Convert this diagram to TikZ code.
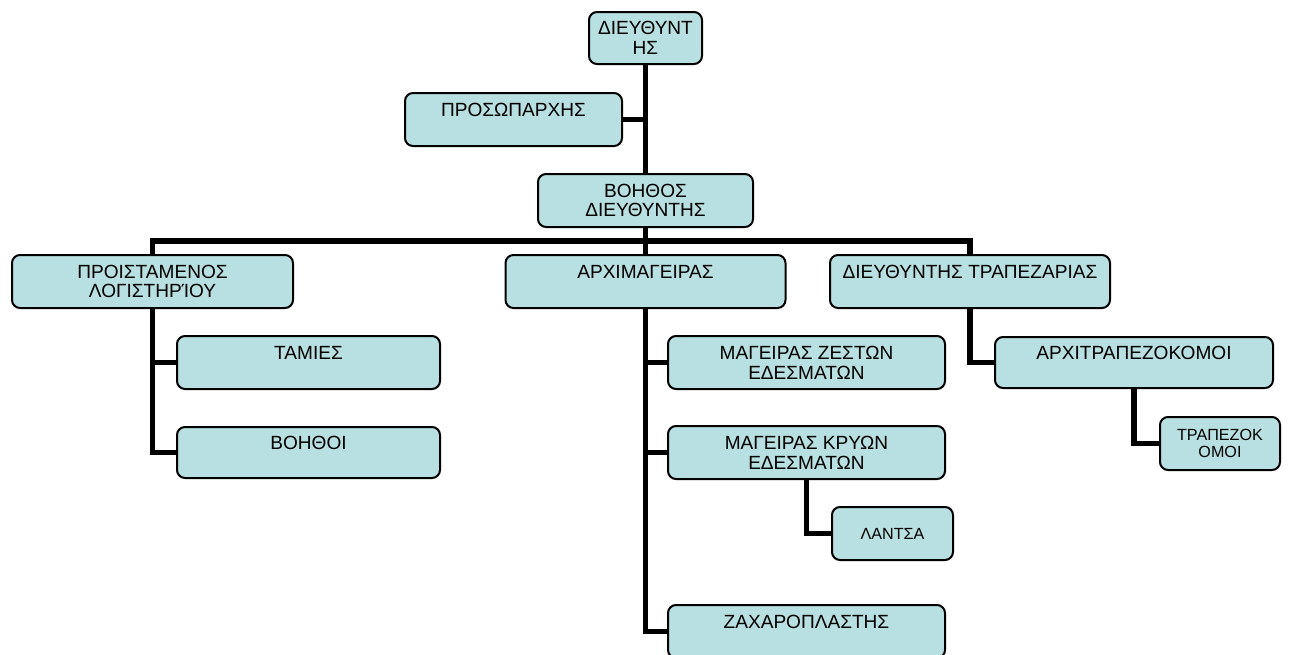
\documentclass[tikz,border=0pt]{standalone}
\usepackage{fontspec}
\setmainfont{Liberation Sans}
\usetikzlibrary{backgrounds}
\definecolor{boxfill}{HTML}{B8DFE1}
\tikzset{
  orgbox/.style={draw=black, line width=1.5pt, rounded corners=6pt, fill=boxfill,
    inner sep=0pt, outer sep=0pt, align=center, minimum height=39.75pt,
    font=\fontsize{14.3}{14.8}\selectfont},
  smallbox/.style={orgbox, font=\fontsize{12.1}{12.6}\selectfont},
  link/.style={draw=black, line width=4.1pt, line join=miter}
}
\begin{document}
\begin{tikzpicture}[x=0.75pt,y=-0.75pt]
\useasboundingbox (0,0) rectangle (1290,654);
\clip (0,0) rectangle (1290,654);
% boxes
\node[orgbox, minimum width=84.75pt, minimum height=39pt] (dir) at (645.5,38) {ΔΙΕΥΘΥΝΤ\\ΗΣ};
\node[orgbox, minimum width=162.75pt] (pros) at (513.5,119.5) {ΠΡΟΣΩΠΑΡΧΗΣ\\\mbox{}};
\node[orgbox, minimum width=161.25pt] (boss) at (645.5,200.5) {ΒΟΗΘΟΣ\\ΔΙΕΥΘΥΝΤΗΣ};
\node[orgbox, minimum width=210.75pt] (proi) at (152.5,281.5) {ΠΡΟΙΣΤΑΜΕΝΟΣ\\ΛΟΓΙΣΤΗΡΊΟΥ};
\node[orgbox, minimum width=210pt] (arxi) at (645.5,281.5) {ΑΡΧΙΜΑΓΕΙΡΑΣ\\\mbox{}};
\node[orgbox, minimum width=210pt] (dtr) at (970,281.5) {ΔΙΕΥΘΥΝΤΗΣ ΤΡΑΠΕΖΑΡΙΑΣ\\\mbox{}};
\node[orgbox, minimum width=197.25pt] (tam) at (308.5,362.5) {ΤΑΜΙΕΣ\\\mbox{}};
\node[orgbox, minimum width=197.25pt, minimum height=38.25pt] (voi) at (308.5,452.5) {ΒΟΗΘΟΙ\\\mbox{}};
\node[orgbox, minimum width=207.75pt] (magz) at (806.5,362.5) {ΜΑΓΕΙΡΑΣ ΖΕΣΤΩΝ\\ΕΔΕΣΜΑΤΩΝ};
\node[orgbox, minimum width=207.75pt] (magk) at (806.5,452.5) {ΜΑΓΕΙΡΑΣ ΚΡΥΩΝ\\ΕΔΕΣΜΑΤΩΝ};
\node[smallbox, minimum width=90.75pt] (lan) at (892.5,533.5) {ΛΑΝΤΣΑ};
\node[orgbox, minimum width=207.75pt] (zax) at (806.5,631.5) {ΖΑΧΑΡΟΠΛΑΣΤΗΣ\\\mbox{}};
\node[orgbox, minimum width=208.5pt, minimum height=38.25pt] (arxtr) at (1134,362.5) {ΑΡΧΙΤΡΑΠΕΖΟΚΟΜΟΙ\\\mbox{}};
\node[smallbox, minimum width=90pt] (trap) at (1220,443.5) {ΤΡΑΠΕΖΟΚ\\ΟΜΟΙ};
\coordinate (bar) at (645.5,241);
% connectors
\begin{pgfonlayer}{background}
\fill[white] (0,0) rectangle (1290,654);
\draw[link] (dir.south) -- (boss.north);
\draw[link] (pros.east) -- (pros.east -| dir.south);
\draw[link] (boss.south) -- (arxi.north);
\draw[link] (proi.north) |- (bar) -| (dtr.north);
\draw[link] (proi.south) |- (tam.west);
\draw[link] (proi.south) |- (voi.west);
\draw[link] (arxi.south) |- (magz.west);
\draw[link] (arxi.south) |- (magk.west);
\draw[link] (arxi.south) |- (zax.west);
\draw[link] (magk.south) |- (lan.west);
\draw[link] (dtr.south) |- (arxtr.west);
\draw[link] (arxtr.south) |- (trap.west);
\end{pgfonlayer}
\end{tikzpicture}
\end{document}
